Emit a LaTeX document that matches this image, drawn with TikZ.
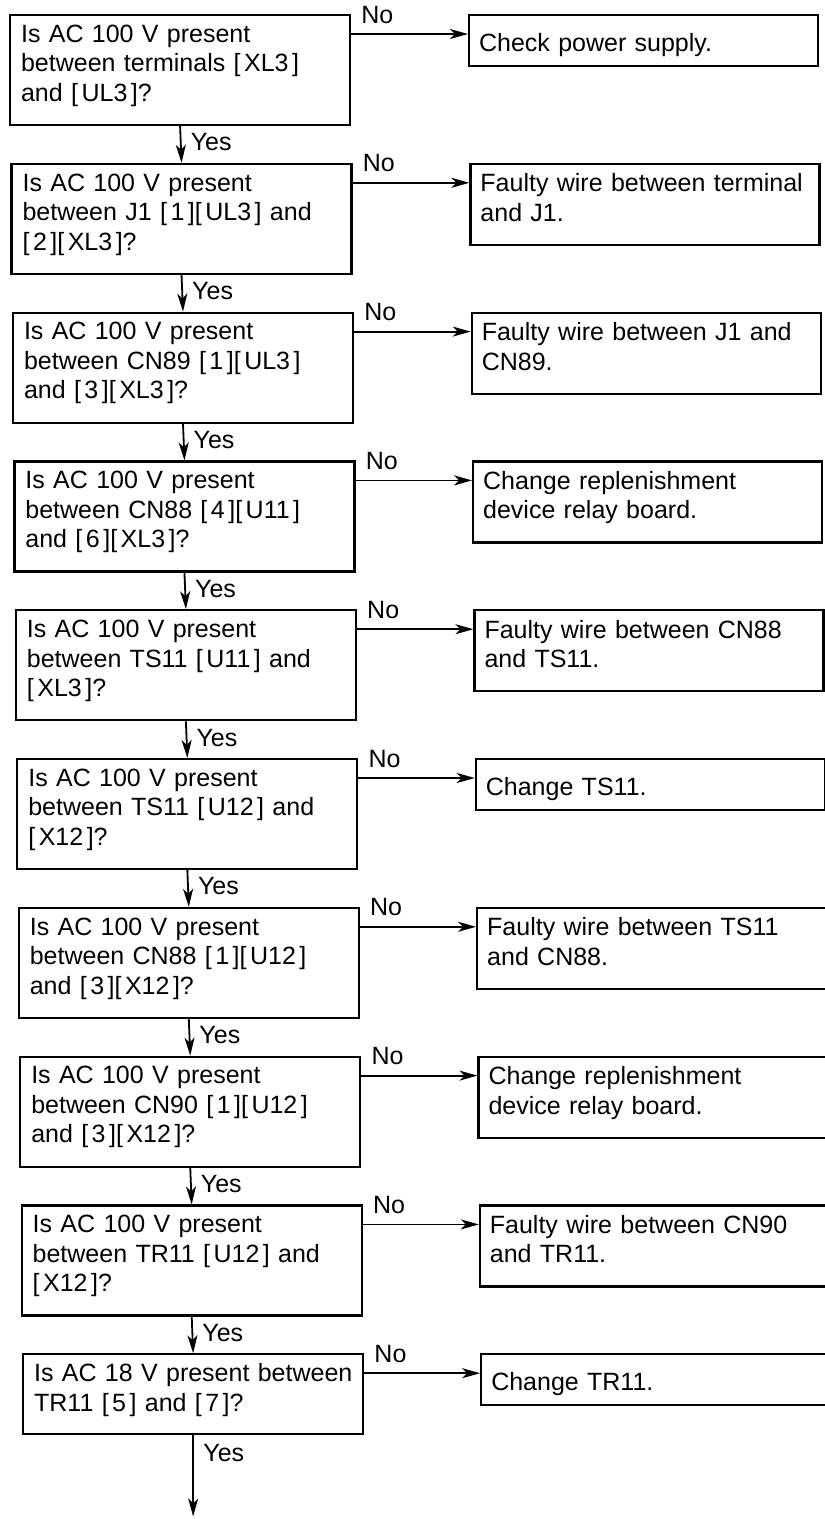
\documentclass[tikz,border=0pt]{standalone}
\usepackage{fontspec}
\setmainfont{Liberation Sans}
\usetikzlibrary{arrows.meta,calc}
\tikzset{
  txt/.style={font=\fontsize{25}{29.5}\selectfont},
  qbox/.style={txt, draw, line width=2.2pt, anchor=north west, align=left,
    text width=318pt, inner xsep=11pt, inner ysep=0pt, minimum width=340pt},
  abox/.style={txt, draw, line width=2.2pt, anchor=north west, align=left,
    text width=329pt, inner xsep=10pt, inner ysep=0pt, minimum width=349pt},
  lbl/.style={txt, inner sep=0pt, anchor=base west},
  arr/.style={line width=1.8pt, -{Stealth[length=18pt,width=10pt,inset=5pt]}},
}
\newcommand\lastdeep{\rule[-14pt]{0pt}{14pt}}
\newcommand\onetall{\rule[-5pt]{0pt}{31pt}}
\newcommand\bk[1]{[\kern3.5pt#1\kern3.5pt]}
\newcommand\flowrow[5]{%
  \pgfmathsetmacro\rowtop{14+(#1-1)*148.8}%
  \pgfmathsetmacro\leftx{9+(#1-1)*1.45}%
  \pgfmathsetmacro\rightx{468+(#1-1)*1.35}%
  \node[qbox, minimum height=#3pt] (q#1) at (\leftx,\rowtop) {#2};
  \node[abox, minimum height=#5pt] (a#1) at (\rightx,\rowtop) {#4};
  \draw[arr] ([yshift=-20pt]q#1.north east) -- ([yshift=-20pt]a#1.north west);
  \node[lbl] (no#1) at ([xshift=10pt,yshift=-9pt]q#1.north east) {No};
}
\begin{document}
\begin{tikzpicture}[x=1pt,y=-1pt]
\fill[white] (0,0) rectangle (825,1519);
\useasboundingbox (0,0) rectangle (825,1519);
\clip (0,0) rectangle (825,1519);

\flowrow{1}{Is AC 100 V present\\between terminals \bk{XL3}\\and \bk{UL3}?\lastdeep}{110}
  {Check power supply.\onetall}{51}
\flowrow{2}{Is AC 100 V present\\between J1 \bk{1}\bk{UL3} and\\\bk{2}\bk{XL3}?\lastdeep}{110}
  {Faulty wire between terminal\\and J1.\lastdeep}{81}
\flowrow{3}{Is AC 100 V present\\between CN89 \bk{1}\bk{UL3}\\and \bk{3}\bk{XL3}?\lastdeep}{110}
  {Faulty wire between J1 and\\CN89.\lastdeep}{81}
\flowrow{4}{Is AC 100 V present\\between CN88 \bk{4}\bk{U11}\\and \bk{6}\bk{XL3}?\lastdeep}{110}
  {Change replenishment\\device relay board.\lastdeep}{81}
\flowrow{5}{Is AC 100 V present\\between TS11 \bk{U11} and\\\bk{XL3}?\lastdeep}{110}
  {Faulty wire between CN88\\and TS11.\lastdeep}{81}
\flowrow{6}{Is AC 100 V present\\between TS11 \bk{U12} and\\\bk{X12}?\lastdeep}{110}
  {Change TS11.\onetall}{51}
\flowrow{7}{Is AC 100 V present\\between CN88 \bk{1}\bk{U12}\\and \bk{3}\bk{X12}?\lastdeep}{110}
  {Faulty wire between TS11\\and CN88.\lastdeep}{81}
\flowrow{8}{Is AC 100 V present\\between CN90 \bk{1}\bk{U12}\\and \bk{3}\bk{X12}?\lastdeep}{110}
  {Change replenishment\\device relay board.\lastdeep}{81}
\flowrow{9}{Is AC 100 V present\\between TR11 \bk{U12} and\\\bk{X12}?\lastdeep}{110}
  {Faulty wire between CN90\\and TR11.\lastdeep}{81}
\flowrow{10}{\mbox{Is AC 18 V present between}\\TR11 \bk{5} and \bk{7}?\lastdeep}{80}
  {Change TR11.\onetall}{51}

\foreach \i [evaluate=\i as \j using int(\i+1)] in {1,...,9} {
  \draw[arr] (q\i.south) -- (q\j.north);
  \node[lbl] (yes\i) at ([xshift=9pt,yshift=12pt]q\j.north) {Yes};
}
\coordinate (end) at ([yshift=-81pt]q10.south);
\draw[arr] (q10.south) -- (end);
\node[lbl] (yes10) at ([xshift=10pt,yshift=-26pt]q10.south) {Yes};
\end{tikzpicture}
\end{document}
